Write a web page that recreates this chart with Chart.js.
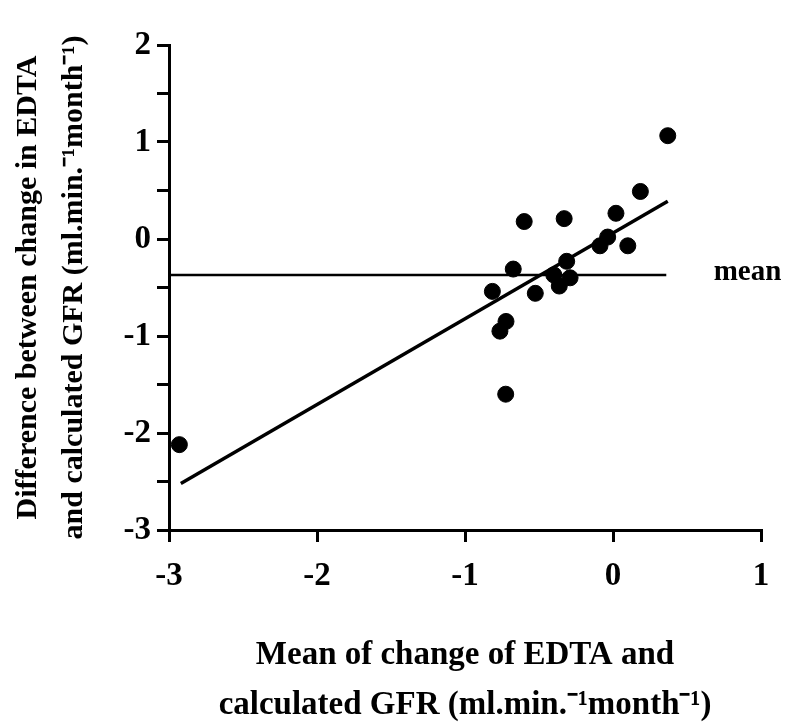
<!DOCTYPE html>
<html>
<head>
<meta charset="utf-8">
<script src="https://cdn.jsdelivr.net/npm/chart.js@4.4.1/dist/chart.umd.min.js"></script>
<style>
    html, body { margin: 0; padding: 0; background: #fff; }
</style>
</head>
<body>
<canvas id="chart" width="804" height="723"></canvas>
<script>
// Values
const meanChange = [-2.93, -0.815, -0.764, -0.723, -0.725, -0.674, -0.60, -0.525, -0.40, -0.363,
    -0.33, -0.313, -0.29, -0.088, -0.036, 0.02, 0.10, 0.185, 0.37];
const diffChange = [-2.12, -0.54, -0.95, -0.85, -1.60, -0.31, 0.18, -0.56, -0.37, -0.485,
    0.21, -0.23, -0.40, -0.07, 0.02, 0.265, -0.07, 0.49, 1.065];

// regression line end points
const fitX = [-2.92, 0.37];
const fitY = [-2.52, 0.39];

// mean difference line
const meanDiff = -0.37;
const meanLineX = [-3, 0.36];
const meanLabelX = 0.68;

const xTickValues = [-3, -2, -1, 0, 1];
const yTickValues = [-3, -2, -1, 0, 1, 2];

const FONT = "'Liberation Serif', 'Times New Roman', serif";

const points = meanChange.map((x, i) => ({ x: x, y: diffChange[i] }));
const fitLine = fitX.map((x, i) => ({ x: x, y: fitY[i] }));
const meanLine = meanLineX.map(x => ({ x: x, y: meanDiff }));

// "mean" label next to the horizontal line
const meanLabel = {
    id: 'meanLabel',
    afterDatasetsDraw(chart) {
        const { ctx, scales } = chart;
        ctx.save();
        ctx.font = "bold 29px " + FONT;
        ctx.fillStyle = '#000';
        ctx.textAlign = 'left';
        ctx.textBaseline = 'middle';
        ctx.fillText('mean', scales.x.getPixelForValue(meanLabelX), scales.y.getPixelForValue(meanDiff) - 2);
        ctx.restore();
    }
};

new Chart(document.getElementById('chart'), {
    type: 'scatter',
    data: {
        datasets: [
            {
                data: points,
                backgroundColor: '#000',
                borderColor: '#000',
                pointRadius: 8,
                pointHoverRadius: 8
            },
            {
                data: fitLine,
                showLine: true,
                borderColor: '#000',
                borderWidth: 3.5,
                pointRadius: 0
            },
            {
                data: meanLine,
                showLine: true,
                borderColor: '#000',
                borderWidth: 2.5,
                pointRadius: 0
            }
        ]
    },
    options: {
        responsive: false,
        animation: false,
        layout: { padding: { top: 45, right: 43, left: 0, bottom: 0 } },
        plugins: {
            legend: { display: false },
            tooltip: { enabled: false }
        },
        scales: {
            x: {
                type: 'linear',
                min: -3,
                max: 1,
                afterFit(scale) { scale.height = 193; },
                afterBuildTicks(scale) { scale.ticks = xTickValues.map(v => ({ value: v })); },
                border: { display: true, color: '#000', width: 3 },
                grid: { drawOnChartArea: false, drawTicks: true, tickLength: 12, color: '#000', lineWidth: 3 },
                ticks: {
                    color: '#000',
                    padding: 15,
                    maxRotation: 0,
                    font: { family: FONT, size: 33, weight: 'bold' }
                },
                title: {
                    display: true,
                    text: ['Mean of change of EDTA and', 'calculated GFR (ml.min.\u207B\u00B9month\u207B\u00B9)'],
                    color: '#000',
                    padding: { top: 0, bottom: -8 },
                    font: { family: FONT, size: 33, weight: 'bold', lineHeight: 1.52 }
                }
            },
            y: {
                type: 'linear',
                min: -3,
                max: 2,
                afterFit(scale) { scale.width = 169; },
                ticks: {
                    stepSize: 0.5,
                    color: '#000',
                    padding: 6,
                    font: { family: FONT, size: 33, weight: 'bold' },
                    callback(v) { return yTickValues.includes(v) ? String(v) : ''; }
                },
                border: { display: true, color: '#000', width: 3 },
                grid: { drawOnChartArea: false, drawTicks: true, tickLength: 12, color: '#000', lineWidth: 3 },
                title: {
                    display: true,
                    text: ['Difference between change in EDTA', 'and calculated GFR (ml.min.\u207B\u00B9month\u207B\u00B9)'],
                    color: '#000',
                    padding: { top: 5, bottom: 0 },
                    font: { family: FONT, size: 30, weight: 'bold', lineHeight: 1.53 }
                }
            }
        }
    },
    plugins: [meanLabel]
});
</script>
</body>
</html>
